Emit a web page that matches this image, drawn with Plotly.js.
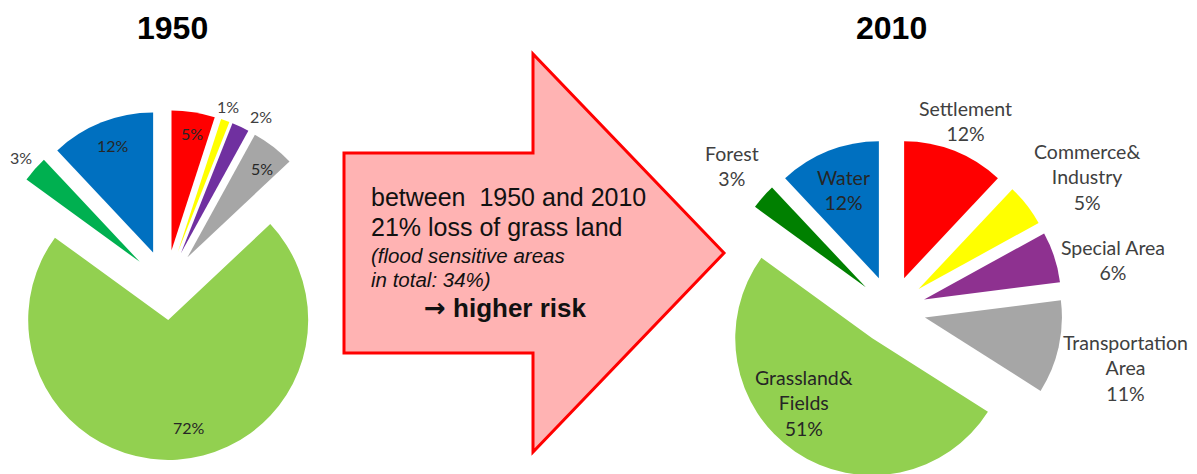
<!DOCTYPE html>
<html>
<head>
<meta charset="utf-8">
<script src="https://cdn.plot.ly/plotly-3.0.1.min.js"></script>
<style>
html, body { margin: 0; padding: 0; width: 1197px; height: 474px; overflow: hidden; background: #ffffff; }
#chart { position: absolute; left: -20px; top: 0px; width: 1237px; height: 520px; }
</style>
</head>
<body>
<div id="chart"></div>
<script>
// ---- data ----
const categories = ['Settlement', 'Commerce&Industry', 'Special Area', 'Transportation Area', 'Grassland&Fields', 'Forest', 'Water'];
const labelText2010 = ['Settlement', 'Commerce&<br>Industry', 'Special Area', 'Transportation<br>Area', 'Grassland&<br>Fields', 'Forest', 'Water'];
const values1950 = [5, 1, 2, 5, 72, 3, 12];
const values2010 = [12, 5, 6, 11, 51, 3, 12];
const years = ['1950', '2010'];
const arrowLines = ['between  1950 and 2010', '21% loss of grass land', '(flood sensitive areas', 'in total: 34%)', 'higher risk'];

// ---- styles ----
const colors1950 = ['#ff0000', '#ffff00', '#7030a0', '#a6a6a6', '#92d050', '#00b050', '#0070c0'];
const colors2010 = ['#ff0000', '#ffff00', '#8e3190', '#a6a6a6', '#92d050', '#008000', '#0070c0'];
const W = 1237, H = 520, OFF = 20;
const px = x => (x + OFF) / W;
const py = y => 1 - y / H;

// pie geometry (screen px): centre, radius, pull fraction
const pie1950 = {cx: 166, cy: 285, r: 140, pull: 0.25};
const pie2010 = {cx: 891.5, cy: 310, r: 137, pull: 0.25};
function domainOf(p) {
  const h = p.r * (1 + p.pull);
  return {x: [px(p.cx - h), px(p.cx + h)], y: [py(p.cy + h), py(p.cy - h)]};
}

// label positions (screen px) and placement
const lab1950Pos = [[192, 133], [228, 107], [261, 117], [262, 169], [189, 427], [21, 157], [113, 145]];
const lab2010Pos = [[965, 120.5], [1087, 176.5], [1113, 259.5], [1125, 367.5], [804, 403], [732, 165.5], [843, 190]];
const inside1950 = [true, false, false, true, true, false, true];
const inside2010 = [false, false, false, false, true, false, true];

const labelFont = 'Lato, "Noto Sans", sans-serif';

const traces = [
  {
    type: 'pie', labels: categories, values: values1950, sort: false, direction: 'clockwise', rotation: 0,
    pull: values1950.map(() => pie1950.pull), marker: {colors: colors1950, line: {width: 0}},
    textinfo: 'none', hoverinfo: 'label+percent', domain: domainOf(pie1950), showlegend: false
  },
  {
    type: 'pie', labels: categories, values: values2010, sort: false, direction: 'clockwise', rotation: 0,
    pull: values2010.map(() => pie2010.pull), marker: {colors: colors2010, line: {width: 0}},
    textinfo: 'none', hoverinfo: 'label+percent', domain: domainOf(pie2010), showlegend: false
  }
];

const annotations = [];
// titles
annotations.push({text: '<b>' + years[0] + '</b>', x: px(172), y: py(28), xref: 'paper', yref: 'paper', showarrow: false,
  xanchor: 'center', yanchor: 'middle', font: {family: '"Liberation Sans", Arial, sans-serif', size: 32, color: '#000000'}});
annotations.push({text: '<b>' + years[1] + '</b>', x: px(891), y: py(28), xref: 'paper', yref: 'paper', showarrow: false,
  xanchor: 'center', yanchor: 'middle', font: {family: '"Liberation Sans", Arial, sans-serif', size: 32, color: '#000000'}});

// 1950 labels
values1950.forEach((v, i) => {
  annotations.push({text: v + '%', x: px(lab1950Pos[i][0]), y: py(lab1950Pos[i][1]), xref: 'paper', yref: 'paper',
    showarrow: false, xanchor: 'center', yanchor: 'middle',
    font: {family: labelFont, size: 16, color: inside1950[i] ? '#262626' : '#404040'}});
});
// 2010 labels
values2010.forEach((v, i) => {
  annotations.push({text: labelText2010[i] + '<br>' + v + '%', x: px(lab2010Pos[i][0]), y: py(lab2010Pos[i][1]),
    xref: 'paper', yref: 'paper', showarrow: false, xanchor: 'center', yanchor: 'middle', align: 'center',
    font: {family: labelFont, size: 19.5, color: inside2010[i] ? '#262626' : '#404040'}});
});

// arrow text
const arrowText = [
  {t: arrowLines[0], x: 369, y: 197, size: 25},
  {t: arrowLines[1], x: 369, y: 227, size: 25},
  {t: '<i>' + arrowLines[2] + '</i>', x: 369, y: 255, size: 20.5},
  {t: '<i>' + arrowLines[3] + '</i>', x: 369, y: 279, size: 20.5},
  {t: '<span style="font-family:\'DejaVu Sans\';font-weight:bold">\u2192</span> <b>' + arrowLines[4] + '</b>', x: 422, y: 308, size: 26}
];
arrowText.forEach(a => {
  annotations.push({text: a.t, x: px(a.x), y: py(a.y), xref: 'paper', yref: 'paper', showarrow: false,
    xanchor: 'left', yanchor: 'middle', font: {family: '"Liberation Sans", Arial, sans-serif', size: a.size, color: '#111111'}});
});

// arrow shape
const arrowPts = [[344, 153], [533, 153], [533, 54], [724, 253], [533, 452], [533, 353], [344, 353]];
const path = 'M ' + arrowPts.map(p => px(p[0]).toFixed(5) + ',' + py(p[1]).toFixed(5)).join(' L ') + ' Z';

const layout = {
  width: W, height: H,
  margin: {l: 0, r: 0, t: 0, b: 0},
  paper_bgcolor: '#ffffff', plot_bgcolor: '#ffffff',
  showlegend: false,
  shapes: [{type: 'path', xref: 'paper', yref: 'paper', path: path, fillcolor: '#ffb3b3',
    line: {color: '#ff0000', width: 3}, layer: 'below'}],
  annotations: annotations
};

Plotly.newPlot('chart', traces, layout, {displayModeBar: false, staticPlot: true});
</script>
</body>
</html>
